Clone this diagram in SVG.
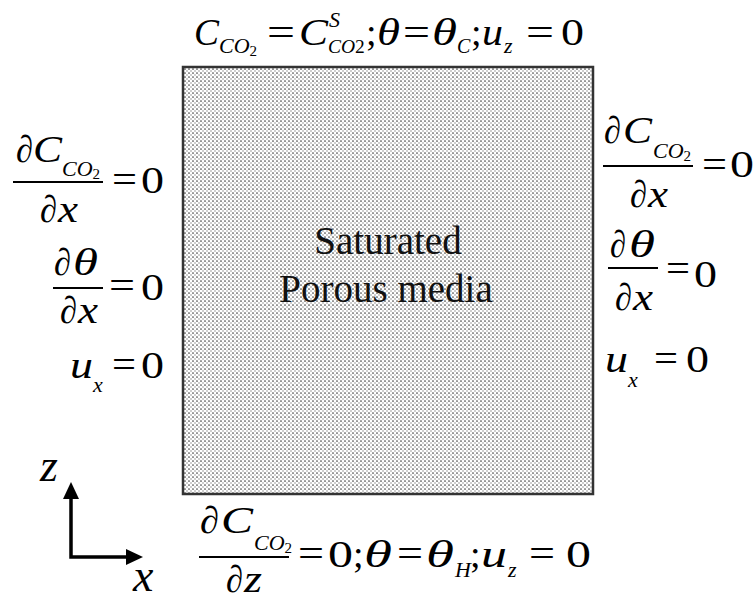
<svg xmlns="http://www.w3.org/2000/svg" width="756" height="600" viewBox="0 0 756 600">
<style>
text{font-family:"Liberation Serif","Times New Roman","DejaVu Serif",serif;fill:#000;font-size:38px}
.i{font-style:italic}
.s{font-size:22px}
.n{font-style:normal;font-size:15px}
.ax-l{font-size:46px;font-style:italic}
.c{font-size:39px;text-anchor:middle;fill:#111}
.bar{stroke:#000;stroke-width:2}
.ax{stroke:#000;stroke-width:3.5;fill:none}
</style>
<defs>
<pattern id="dots" width="4" height="4" patternUnits="userSpaceOnUse">
<rect width="4" height="4" fill="#fff"/>
<circle cx="1" cy="1" r="0.85" fill="#444"/>
<circle cx="3" cy="3" r="0.7" fill="#777"/>
</pattern>
</defs>
<rect width="756" height="600" fill="#fff"/>

<g id="media">
<rect x="183" y="67" width="410" height="427" fill="url(#dots)" stroke="#333" stroke-width="2.5"/>
<text class="c" x="388" y="254">Saturated</text>
<text class="c" x="386" y="302">Porous media</text>
</g>

<g id="top-bc">
<text class="i" x="194" y="45" textLength="25" lengthAdjust="spacingAndGlyphs">C</text>
<text class="i s" x="219" y="53">CO<tspan class="n" dy="3">2</tspan></text>
<text x="267" y="45" textLength="28" lengthAdjust="spacingAndGlyphs">=</text>
<text class="i" x="299" y="45" textLength="29" lengthAdjust="spacingAndGlyphs">C</text>
<text class="i s" x="329" y="27">S</text>
<text class="i" x="328" y="53" style="font-size:19.5px">CO<tspan font-style="normal">2</tspan></text>
<text x="366" y="45">;</text>
<text class="i" x="377" y="45" textLength="23" lengthAdjust="spacingAndGlyphs">θ</text>
<text x="403" y="45" textLength="27" lengthAdjust="spacingAndGlyphs">=</text>
<text class="i" x="432" y="45" textLength="25" lengthAdjust="spacingAndGlyphs">θ</text>
<text class="i" x="457" y="53" style="font-size:20px">C</text>
<text x="471" y="45">;</text>
<text class="i" x="482" y="45" textLength="21" lengthAdjust="spacingAndGlyphs">u</text>
<text class="i s" x="504" y="53">z</text>
<text x="526" y="45" textLength="28" lengthAdjust="spacingAndGlyphs">=</text>
<text x="561" y="45" textLength="23" lengthAdjust="spacingAndGlyphs">0</text>
</g>

<g id="left-bc">
<text x="16" y="162" textLength="17" lengthAdjust="spacingAndGlyphs">∂</text>
<text class="i" x="33" y="162" textLength="29" lengthAdjust="spacingAndGlyphs">C</text>
<text class="i s" x="62" y="176">CO<tspan class="n" dy="3">2</tspan></text>
<line class="bar" x1="13" y1="182" x2="103" y2="182"/>
<text x="40" y="222" textLength="17" lengthAdjust="spacingAndGlyphs">∂</text>
<text class="i" x="58" y="222" textLength="20" lengthAdjust="spacingAndGlyphs">x</text>
<text x="112" y="192" textLength="25" lengthAdjust="spacingAndGlyphs">=</text>
<text x="141" y="193" textLength="23" lengthAdjust="spacingAndGlyphs">0</text>

<text x="54" y="275" textLength="17" lengthAdjust="spacingAndGlyphs">∂</text>
<text class="i" x="73" y="275" textLength="25" lengthAdjust="spacingAndGlyphs">θ</text>
<line class="bar" x1="53" y1="288" x2="103" y2="288"/>
<text x="60" y="323" textLength="17" lengthAdjust="spacingAndGlyphs">∂</text>
<text class="i" x="78" y="323" textLength="20" lengthAdjust="spacingAndGlyphs">x</text>
<text x="109" y="298" textLength="26" lengthAdjust="spacingAndGlyphs">=</text>
<text x="141" y="300" textLength="23" lengthAdjust="spacingAndGlyphs">0</text>

<text class="i" x="70" y="378" textLength="23" lengthAdjust="spacingAndGlyphs">u</text>
<text class="i s" x="93" y="392">x</text>
<text x="112" y="377" textLength="24" lengthAdjust="spacingAndGlyphs">=</text>
<text x="141" y="378" textLength="23" lengthAdjust="spacingAndGlyphs">0</text>
</g>

<g id="right-bc">
<text x="604" y="143" textLength="17" lengthAdjust="spacingAndGlyphs">∂</text>
<text class="i" x="623" y="143" textLength="29" lengthAdjust="spacingAndGlyphs">C</text>
<text class="i s" x="653" y="158">CO<tspan class="n" dy="3">2</tspan></text>
<line class="bar" x1="603" y1="166" x2="693" y2="166"/>
<text x="630" y="207" textLength="17" lengthAdjust="spacingAndGlyphs">∂</text>
<text class="i" x="648" y="207" textLength="20" lengthAdjust="spacingAndGlyphs">x</text>
<text x="702" y="177" textLength="25" lengthAdjust="spacingAndGlyphs">=</text>
<text x="730" y="177" textLength="24" lengthAdjust="spacingAndGlyphs">0</text>

<text x="610" y="257" textLength="16" lengthAdjust="spacingAndGlyphs">∂</text>
<text class="i" x="629" y="257" textLength="26" lengthAdjust="spacingAndGlyphs">θ</text>
<line class="bar" x1="608" y1="268" x2="658" y2="268"/>
<text x="615" y="310" textLength="17" lengthAdjust="spacingAndGlyphs">∂</text>
<text class="i" x="633" y="310" textLength="20" lengthAdjust="spacingAndGlyphs">x</text>
<text x="666" y="281" textLength="24" lengthAdjust="spacingAndGlyphs">=</text>
<text x="694" y="287" textLength="23" lengthAdjust="spacingAndGlyphs">0</text>

<text class="i" x="605" y="372" textLength="23" lengthAdjust="spacingAndGlyphs">u</text>
<text class="i s" x="628" y="387">x</text>
<text x="654" y="371" textLength="24" lengthAdjust="spacingAndGlyphs">=</text>
<text x="686" y="372" textLength="23" lengthAdjust="spacingAndGlyphs">0</text>
</g>

<g id="bottom-bc">
<text x="200" y="533" textLength="19" lengthAdjust="spacingAndGlyphs">∂</text>
<text class="i" x="221" y="533" textLength="32" lengthAdjust="spacingAndGlyphs">C</text>
<text class="i s" x="254" y="550">CO<tspan class="n" dy="3">2</tspan></text>
<line class="bar" x1="199" y1="557" x2="289" y2="557"/>
<text x="226" y="592" textLength="17" lengthAdjust="spacingAndGlyphs">∂</text>
<text class="i" x="244" y="592" textLength="18" lengthAdjust="spacingAndGlyphs">z</text>
<text x="298" y="566" textLength="26" lengthAdjust="spacingAndGlyphs">=</text>
<text x="328" y="567" textLength="25" lengthAdjust="spacingAndGlyphs">0</text>
<text x="353" y="567">;</text>
<text class="i" x="364" y="567" textLength="28" lengthAdjust="spacingAndGlyphs">θ</text>
<text x="397" y="566" textLength="26" lengthAdjust="spacingAndGlyphs">=</text>
<text class="i" x="426" y="567" textLength="28" lengthAdjust="spacingAndGlyphs">θ</text>
<text class="i s" x="455" y="577">H</text>
<text x="470" y="567">;</text>
<text class="i" x="481" y="567" textLength="26" lengthAdjust="spacingAndGlyphs">u</text>
<text class="i s" x="508" y="577">z</text>
<text x="529" y="566" textLength="26" lengthAdjust="spacingAndGlyphs">=</text>
<text x="566" y="567" textLength="25" lengthAdjust="spacingAndGlyphs">0</text>
</g>

<g id="axes">
<polyline class="ax" points="71,497 71,557 128,557"/>
<polygon points="71,482 63,499 79,499" fill="#000"/>
<polygon points="143,557 126,549 126,565" fill="#000"/>
<text class="ax-l" x="40" y="481">z</text>
<text class="ax-l" x="133" y="591">x</text>
</g>
</svg>
